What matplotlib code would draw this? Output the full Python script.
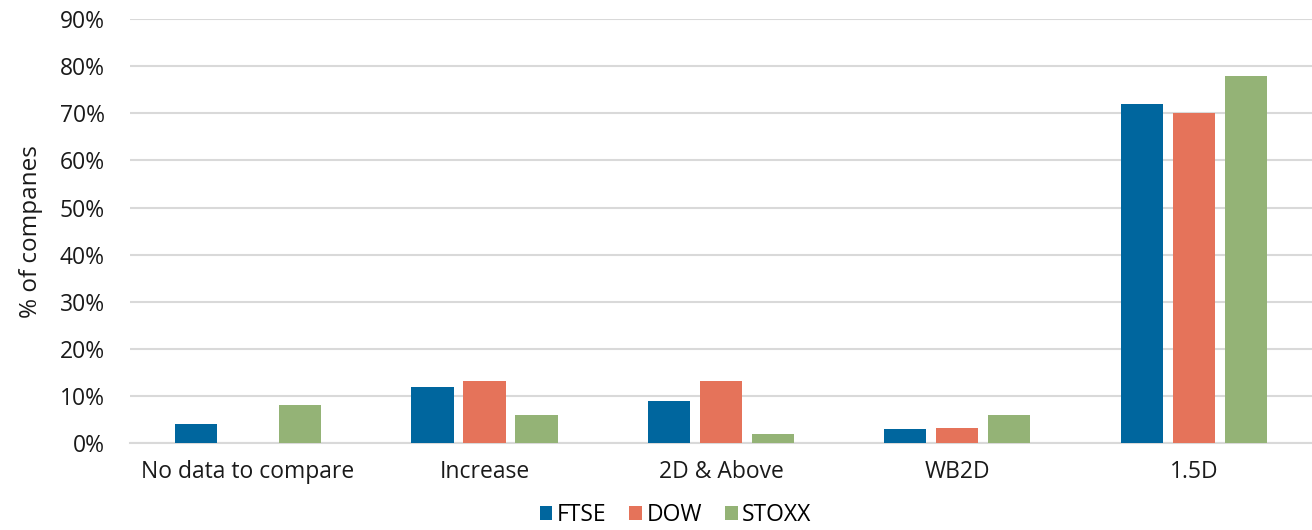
import matplotlib
matplotlib.use("Agg")
import matplotlib.pyplot as plt
import numpy as np
from matplotlib.ticker import FuncFormatter

categories = ["No data to compare", "Increase", "2D & Above", "WB2D", "1.5D"]
series_names = ["FTSE", "DOW", "STOXX"]
ftse = [4, 12, 9, 3, 72]
dow = [0, 13.2, 13.2, 3.3, 70]
stoxx = [8, 6, 2, 6, 78]
colors = ["#00669E", "#E5735A", "#94B376"]

plt.rcParams['font.family'] = ['Open Sans', 'DejaVu Sans']

fig = plt.figure(figsize=(13.12, 5.30), dpi=100)
ax = fig.add_axes([0.099, 0.164, 0.901, 0.800])

x = np.arange(len(categories))
pitch = 0.22
width = 0.178
for i, (vals, name, c) in enumerate(zip([ftse, dow, stoxx], series_names, colors)):
    ax.bar(x + (i - 1) * pitch, vals, width=width, color=c, label=name, zorder=3)

ax.set_xlim(-0.5, len(categories) - 0.5)
ax.set_ylim(0, 90)
ax.set_yticks(np.arange(0, 91, 10))
ax.yaxis.set_major_formatter(FuncFormatter(lambda v, p: f"{int(v)}%"))
ax.set_xticks(x)
ax.set_xticklabels(categories)
ax.tick_params(axis='both', length=0, labelsize=16.5, colors='#1a1a1a')
ax.tick_params(axis='y', pad=18)
ax.tick_params(axis='x', pad=12)
ax.grid(axis='y', color='#d9d9d9', linewidth=1.5, zorder=0)
for s in ['top', 'right', 'left']:
    ax.spines[s].set_visible(False)
ax.spines['bottom'].set_color('#d9d9d9')
ax.spines['bottom'].set_linewidth(1.5)
ax.set_ylabel("% of companes", fontsize=17.5, color='#1a1a1a', labelpad=12)

leg = fig.legend(loc='lower center', bbox_to_anchor=(0.515, -0.033), ncol=3, frameon=False,
                 fontsize=16.5, handlelength=0.55, handleheight=0.55, handletextpad=0.2,
                 columnspacing=1.0)

fig.savefig("out.png", dpi=100)
